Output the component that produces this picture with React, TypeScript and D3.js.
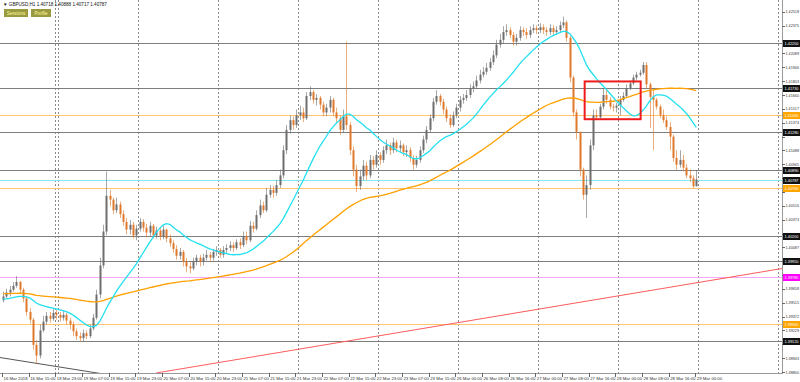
import React from 'react';
import * as d3 from 'd3';

// ---------- DATA ----------
const firstOpen = 1.3954;
const closes = [
  1.3958, 1.3962, 1.3965, 1.3969, 1.3973, 1.3965, 1.3956, 1.3942, 1.3934, 1.3908,
  1.3897, 1.3923, 1.3932, 1.3938, 1.3935, 1.3941, 1.3939, 1.3936, 1.3939, 1.3933,
  1.3929, 1.3922, 1.3917, 1.3915, 1.3920, 1.3917, 1.3925, 1.3936, 1.3960, 1.3990,
  1.4025, 1.4062, 1.4058, 1.4047, 1.4053, 1.4043, 1.4035, 1.4027, 1.4032, 1.4021,
  1.4028, 1.4035, 1.4029, 1.4024, 1.4031, 1.4021, 1.4026, 1.4020, 1.4027, 1.4018,
  1.4013, 1.4007, 1.4000, 1.4004, 1.3994, 1.3989, 1.3987, 1.3994, 1.3998, 1.3994,
  1.3998, 1.4001, 1.3998, 1.4004, 1.4006, 1.4001, 1.4006, 1.4008, 1.4011, 1.4008,
  1.4014, 1.4011, 1.4020, 1.4016, 1.4031, 1.4028, 1.4042, 1.4052, 1.4047, 1.4063,
  1.4068, 1.4065, 1.4073, 1.4083, 1.4109, 1.4130, 1.4140, 1.4135, 1.4145, 1.4148,
  1.4142, 1.4165, 1.4169, 1.4161, 1.4163, 1.4156, 1.4148, 1.4153, 1.4161, 1.4148,
  1.4142, 1.4130, 1.4144, 1.4135, 1.4109, 1.4089, 1.4072, 1.4082, 1.4093, 1.4083,
  1.4099, 1.4094, 1.4104, 1.4099, 1.4109, 1.4114, 1.4109, 1.4117, 1.4111, 1.4114,
  1.4107, 1.4109, 1.4101, 1.4094, 1.4099, 1.4109, 1.4120, 1.4130, 1.4142, 1.4159,
  1.4165, 1.4159, 1.4151, 1.4142, 1.4135, 1.4145, 1.4153, 1.4161, 1.4163, 1.4166,
  1.4173, 1.4175, 1.4181, 1.4187, 1.4190, 1.4194, 1.4200, 1.4207, 1.4218, 1.4223,
  1.4231, 1.4233, 1.4228, 1.4221, 1.4225, 1.4233, 1.4231, 1.4228, 1.4233, 1.4235,
  1.4233, 1.4236, 1.4233, 1.4231, 1.4235, 1.4231, 1.4233, 1.4238, 1.4241, 1.4225,
  1.4184, 1.4148, 1.4128, 1.4089, 1.4063, 1.4073, 1.4114, 1.4145, 1.4143, 1.4154,
  1.4166, 1.4161, 1.4154, 1.4153, 1.4155, 1.4161, 1.4165, 1.4173, 1.4178, 1.4184,
  1.4187, 1.4189, 1.4197, 1.4177, 1.4164, 1.4161, 1.4154, 1.4145, 1.4140, 1.4133,
  1.4123, 1.4101, 1.4094, 1.4099, 1.4091, 1.4083, 1.4080, 1.40718, 1.40787,
];
const highs = [
  1.3963, 1.3966, 1.3969, 1.3973, 1.3979, 1.3974, 1.3967, 1.3958, 1.3946, 1.3936,
  1.3913, 1.3929, 1.3938, 1.3942, 1.3942, 1.3945, 1.3944, 1.3942, 1.3943, 1.3941,
  1.3936, 1.3932, 1.3925, 1.3921, 1.3924, 1.3923, 1.3929, 1.3940, 1.3965, 1.3998,
  1.4032, 1.4087, 1.4068, 1.4060, 1.4060, 1.4056, 1.4047, 1.4039, 1.4037, 1.4035,
  1.4032, 1.4039, 1.4038, 1.4033, 1.4035, 1.4033, 1.4030, 1.4029, 1.4031, 1.4028,
  1.4022, 1.4016, 1.4011, 1.4008, 1.4006, 1.3998, 1.3994, 1.3998, 1.4001, 1.4001,
  1.4002, 1.4006, 1.4004, 1.4007, 1.4010, 1.4008, 1.4010, 1.4012, 1.4015, 1.4014,
  1.4017, 1.4018, 1.4025, 1.4025, 1.4036, 1.4035, 1.4047, 1.4058, 1.4056, 1.4070,
  1.4073, 1.4072, 1.4078, 1.4089, 1.4114, 1.4135, 1.4145, 1.4144, 1.4151, 1.4155,
  1.4153, 1.4169, 1.4175, 1.4171, 1.4167, 1.4165, 1.4159, 1.4157, 1.4165, 1.4163,
  1.4153, 1.4145, 1.4151, 1.4221, 1.4138, 1.4113, 1.4094, 1.4089, 1.4099, 1.4097,
  1.4104, 1.4103, 1.4109, 1.4107, 1.4113, 1.4120, 1.4117, 1.4122, 1.4120, 1.4119,
  1.4116, 1.4114, 1.4112, 1.4104, 1.4103, 1.4113, 1.4124, 1.4134, 1.4146, 1.4163,
  1.4171, 1.4167, 1.4162, 1.4154, 1.4146, 1.4149, 1.4157, 1.4165, 1.4167, 1.4171,
  1.4177, 1.4180, 1.4186, 1.4192, 1.4195, 1.4199, 1.4204, 1.4212, 1.4223, 1.4229,
  1.4237, 1.4239, 1.4236, 1.4231, 1.4229, 1.4237, 1.4236, 1.4235, 1.4237, 1.4239,
  1.4238, 1.4240, 1.4239, 1.4236, 1.4239, 1.4238, 1.4237, 1.4242, 1.4247, 1.4243,
  1.4227, 1.4186, 1.4151, 1.4128, 1.4091, 1.4083, 1.4120, 1.4151, 1.4151, 1.4157,
  1.4173, 1.4171, 1.4164, 1.4157, 1.4158, 1.4165, 1.4169, 1.4177, 1.4181, 1.4187,
  1.4190, 1.4192, 1.4200, 1.4200, 1.4179, 1.4171, 1.4163, 1.4156, 1.4151, 1.4144,
  1.4138, 1.4125, 1.4109, 1.4109, 1.4104, 1.4095, 1.4089, 1.4083, 1.40888,
];
const lows = [
  1.3952, 1.3956, 1.3958, 1.3963, 1.3967, 1.3961, 1.3952, 1.3938, 1.3930, 1.3903,
  1.3889, 1.3894, 1.3921, 1.3929, 1.3931, 1.3933, 1.3934, 1.3932, 1.3933, 1.3929,
  1.3924, 1.3917, 1.3913, 1.3911, 1.3912, 1.3914, 1.3915, 1.3923, 1.3934, 1.3956,
  1.3987, 1.4021, 1.4051, 1.4043, 1.4044, 1.4039, 1.4031, 1.4022, 1.4022, 1.4018,
  1.4016, 1.4025, 1.4025, 1.4019, 1.4020, 1.4018, 1.4018, 1.4016, 1.4017, 1.4014,
  1.4009, 1.4003, 1.3996, 1.3996, 1.3989, 1.3983, 1.3982, 1.3985, 1.3990, 1.3989,
  1.3990, 1.3995, 1.3994, 1.3995, 1.4000, 1.3998, 1.3998, 1.4003, 1.4005, 1.4004,
  1.4006, 1.4007, 1.4009, 1.4012, 1.4014, 1.4024, 1.4026, 1.4039, 1.4044, 1.4045,
  1.4060, 1.4060, 1.4062, 1.4070, 1.4080, 1.4105, 1.4126, 1.4130, 1.4132, 1.4140,
  1.4138, 1.4140, 1.4161, 1.4157, 1.4155, 1.4151, 1.4144, 1.4144, 1.4148, 1.4144,
  1.4138, 1.4125, 1.4127, 1.4130, 1.4104, 1.4082, 1.4066, 1.4068, 1.4078, 1.4078,
  1.4080, 1.4089, 1.4091, 1.4094, 1.4096, 1.4105, 1.4104, 1.4106, 1.4107, 1.4107,
  1.4103, 1.4102, 1.4097, 1.4089, 1.4091, 1.4096, 1.4106, 1.4116, 1.4127, 1.4139,
  1.4156, 1.4155, 1.4146, 1.4138, 1.4132, 1.4133, 1.4142, 1.4149, 1.4157, 1.4160,
  1.4163, 1.4169, 1.4172, 1.4178, 1.4184, 1.4187, 1.4191, 1.4197, 1.4204, 1.4215,
  1.4219, 1.4227, 1.4225, 1.4217, 1.4217, 1.4222, 1.4227, 1.4224, 1.4225, 1.4230,
  1.4229, 1.4230, 1.4229, 1.4227, 1.4228, 1.4227, 1.4228, 1.4230, 1.4235, 1.4221,
  1.4179, 1.4144, 1.4120, 1.4082, 1.4058, 1.4039, 1.4068, 1.4109, 1.4140, 1.4140,
  1.4151, 1.4157, 1.4151, 1.4149, 1.4148, 1.4145, 1.4159, 1.4163, 1.4171, 1.4176,
  1.4181, 1.4185, 1.4187, 1.4173, 1.4132, 1.4109, 1.4151, 1.4142, 1.4137, 1.4130,
  1.4109, 1.4097, 1.4089, 1.4091, 1.4087, 1.4080, 1.4076, 1.4070, 1.40717,
];

const timeLabelBars = [0, 8, 16, 24, 32, 40, 48, 56, 64, 72, 80, 88, 96, 104, 112, 120, 128, 136, 144, 152, 160, 168, 176, 184, 192, 200, 208];
const timeLabels = [
  '16 Mar 2018', '16 Mar 15:00', '18 Mar 23:00', '19 Mar 07:00', '19 Mar 15:00', '19 Mar 23:00',
  '20 Mar 07:00', '20 Mar 15:00', '20 Mar 23:00', '21 Mar 07:00', '21 Mar 15:00', '21 Mar 23:00',
  '22 Mar 07:00', '22 Mar 15:00', '22 Mar 23:00', '23 Mar 07:00', '23 Mar 15:00', '26 Mar 00:00',
  '26 Mar 08:00', '26 Mar 16:00', '27 Mar 00:00', '27 Mar 08:00', '27 Mar 16:00', '28 Mar 00:00',
  '28 Mar 08:00', '28 Mar 16:00', '29 Mar 00:00',
];
const priceTicks = [
  1.38800, 1.38943, 1.39086, 1.39229, 1.39372, 1.39515, 1.39658, 1.39801, 1.39944,
  1.40087, 1.40230, 1.40373, 1.40516, 1.40659, 1.40802, 1.40945, 1.41088, 1.41231,
  1.41374, 1.41517, 1.41660, 1.41803, 1.41946, 1.42089, 1.42232, 1.42375, 1.42518,
];
const daySeparators = [15.5, 16.5, 40.5, 64.5, 88.5, 112.5, 136.5, 160.5, 184.5, 208.5, 232.5];
const grayLevels = [1.4220, 1.4173, 1.4128, 1.4089, 1.4020, 1.3995, 1.3912];
const orangeLevels = [1.4145, 1.4070, 1.3930];
const magentaLevels = [1.3978];
const redTrend = [{ bar: 46, price: 1.3879 }, { bar: 234, price: 1.3987 }];
const grayTrend = [{ bar: -1, price: 1.3895 }, { bar: 30, price: 1.3878 }];
const boxBars = [174.5, 191.3];
const boxPrices = [1.4180, 1.4141];
const fastPeriod = 20;
const fastPre = 1.3955;
const slowPeriod = 80;
const slowPre = 1.3961;
const header = '\u25BC GBPUSD,H1  1.40718 1.40888 1.40717 1.40787';

// ---------- LAYOUT ----------
const W = 800, H = 382;
const plotR = 782, plotB = 373;
const FONT = 'Liberation Sans, Arial, sans-serif';

const x = d3.scaleLinear().domain([0, 208]).range([3, 3 + 208 * 3.3333]);
const y = d3.scaleLinear().domain([1.388, 1.388 + 372 * 0.00010325]).range([372, 0]);

const opens = closes.map((c, i) => (i === 0 ? firstOpen : closes[i - 1]));

function paddedSMA(period: number, pre: number) {
  return closes.map((_, i) => {
    let s = 0;
    for (let k = i - period + 1; k <= i; k++) s += k < 0 ? pre : closes[k];
    return s / period;
  });
}

const fast = paddedSMA(fastPeriod, fastPre);
const slow = paddedSMA(slowPeriod, slowPre);
const lineGen = d3.line<number>().x((_, i) => x(i)).y((d) => y(d)).curve(d3.curveLinear);

const BULL = '#6e6e6e';
const BEAR = '#e0782a';
const AXFS = 4.3;

function LevelLabel({ price, bg, fg }: { price: number; bg: string; fg: string }) {
  const yy = Math.round(y(price)) + 0.5;
  return (
    <g>
      <rect x={783} y={yy - 3.5} width={17} height={7} fill={bg} />
      <text x={784.5} y={yy + 1.5} fontSize={AXFS} fill={fg} fontFamily={FONT}
        textLength={14} lengthAdjust="spacingAndGlyphs">{price.toFixed(5)}</text>
    </g>
  );
}

export default function App() {
  const last = closes[closes.length - 1];
  const levelYs = [...grayLevels, ...orangeLevels, ...magentaLevels, last].map((p) => y(p));
  const visibleTicks = priceTicks.filter((p) => levelYs.every((ly) => Math.abs(ly - y(p)) >= 5));
  return (
    <svg width={W} height={H} style={{ position: 'absolute', left: 0, top: 0, background: '#fff' }}>
      <rect x={0} y={0} width={W} height={H} fill="#fff" />
      <defs>
        <clipPath id="plot"><rect x={0} y={0} width={plotR} height={plotB} /></clipPath>
      </defs>
      <g clipPath="url(#plot)">
        {daySeparators.map((b, i) => (
          <line key={'s' + i} x1={Math.round(x(b)) + 0.5} x2={Math.round(x(b)) + 0.5} y1={0} y2={plotB}
            stroke="#8a8a8a" strokeWidth={1} strokeDasharray="2,2" />
        ))}
        {grayLevels.map((p, i) => (
          <line key={'g' + i} x1={0} x2={plotR} y1={Math.round(y(p)) + 0.5} y2={Math.round(y(p)) + 0.5} stroke="#7d7d7d" strokeWidth={1} />
        ))}
        {orangeLevels.map((p, i) => (
          <line key={'o' + i} x1={0} x2={plotR} y1={Math.round(y(p)) + 0.5} y2={Math.round(y(p)) + 0.5} stroke="#ffc46e" strokeWidth={1} />
        ))}
        {magentaLevels.map((p, i) => (
          <line key={'m' + i} x1={0} x2={plotR} y1={Math.round(y(p)) + 0.5} y2={Math.round(y(p)) + 0.5} stroke="#f6a8f6" strokeWidth={1} />
        ))}
        <line x1={0} x2={plotR} y1={Math.round(y(last)) + 0.5} y2={Math.round(y(last)) + 0.5} stroke="#7fe8f0" strokeWidth={1} />
        <line x1={x(redTrend[0].bar)} y1={y(redTrend[0].price)} x2={x(redTrend[1].bar)} y2={y(redTrend[1].price)} stroke="#ff5a5a" strokeWidth={1} />
        <line x1={x(grayTrend[0].bar)} y1={y(grayTrend[0].price)} x2={x(grayTrend[1].bar)} y2={y(grayTrend[1].price)} stroke="#555" strokeWidth={1} />
        {closes.map((c, i) => {
          const o = opens[i];
          const hi = Math.max(highs[i], o, c);
          const lo = Math.min(lows[i], o, c);
          const bull = c >= o;
          const col = bull ? BULL : BEAR;
          const cx = Math.round(x(i));
          const top = y(Math.max(o, c));
          const bot = y(Math.min(o, c));
          return (
            <g key={'c' + i}>
              <line x1={cx + 0.5} x2={cx + 0.5} y1={y(hi)} y2={y(lo)} stroke={col} strokeOpacity={0.6} strokeWidth={1} />
              <rect x={cx - 0.5} y={top} width={2} height={Math.max(1, bot - top)} fill={col} />
            </g>
          );
        })}
        <path d={lineGen(slow) || ''} fill="none" stroke="#ffa000" strokeWidth={1.3} />
        <path d={lineGen(fast) || ''} fill="none" stroke="#22e0f0" strokeWidth={1.3} />
        <rect x={x(boxBars[0])} y={y(boxPrices[0])} width={x(boxBars[1]) - x(boxBars[0])} height={y(boxPrices[1]) - y(boxPrices[0])}
          fill="none" stroke="#ee1c1c" strokeWidth={2} />
      </g>

      {/* axes */}
      <line x1={plotR + 0.5} x2={plotR + 0.5} y1={0} y2={plotB} stroke="#9a9a9a" strokeWidth={1} />
      <line x1={0} x2={plotR + 1} y1={plotB + 0.5} y2={plotB + 0.5} stroke="#9a9a9a" strokeWidth={1} />
      {priceTicks.map((p, i) => (
        <line key={'tk' + i} x1={plotR} x2={plotR + 3} y1={Math.round(y(p)) + 0.5} y2={Math.round(y(p)) + 0.5} stroke="#666" />
      ))}
      {visibleTicks.map((p, i) => (
        <text key={'t' + i} x={785.5} y={y(p) + 1.5} fontSize={AXFS} fill="#333" fontFamily={FONT}
          textLength={13.5} lengthAdjust="spacingAndGlyphs">{p.toFixed(5)}</text>
      ))}
      {timeLabelBars.map((b, i) => (
        <g key={'x' + i}>
          <line x1={Math.round(x(b)) - 0.5} x2={Math.round(x(b)) - 0.5} y1={plotB} y2={plotB + 4} stroke="#666" />
          <text x={x(b) + 0.5} y={380} fontSize={AXFS} fill="#333" fontFamily={FONT}>{timeLabels[i]}</text>
        </g>
      ))}
      {grayLevels.map((p, i) => <LevelLabel key={'gl' + i} price={p} bg="#111" fg="#fff" />)}
      {orangeLevels.map((p, i) => <LevelLabel key={'ol' + i} price={p} bg="#ffa500" fg="#fff" />)}
      {magentaLevels.map((p, i) => <LevelLabel key={'ml' + i} price={p} bg="#ff00ff" fg="#fff" />)}
      <LevelLabel price={last} bg="#111" fg="#fff" />

      {/* header */}
      <text x={3} y={6} fontSize={4.6} fill="#111" fontFamily={FONT}>{header}</text>
      <rect x={4} y={9} width={24} height={8} fill="#9c9a3e" />
      <text x={16} y={15} fontSize={4.6} fill="#fbf7a0" fontFamily={FONT} textAnchor="middle">Sessions</text>
      <rect x={31} y={9} width={20} height={8} fill="#9c9a3e" />
      <text x={41} y={15} fontSize={4.6} fill="#fbf7a0" fontFamily={FONT} textAnchor="middle">Profile</text>
    </svg>
  );
}
